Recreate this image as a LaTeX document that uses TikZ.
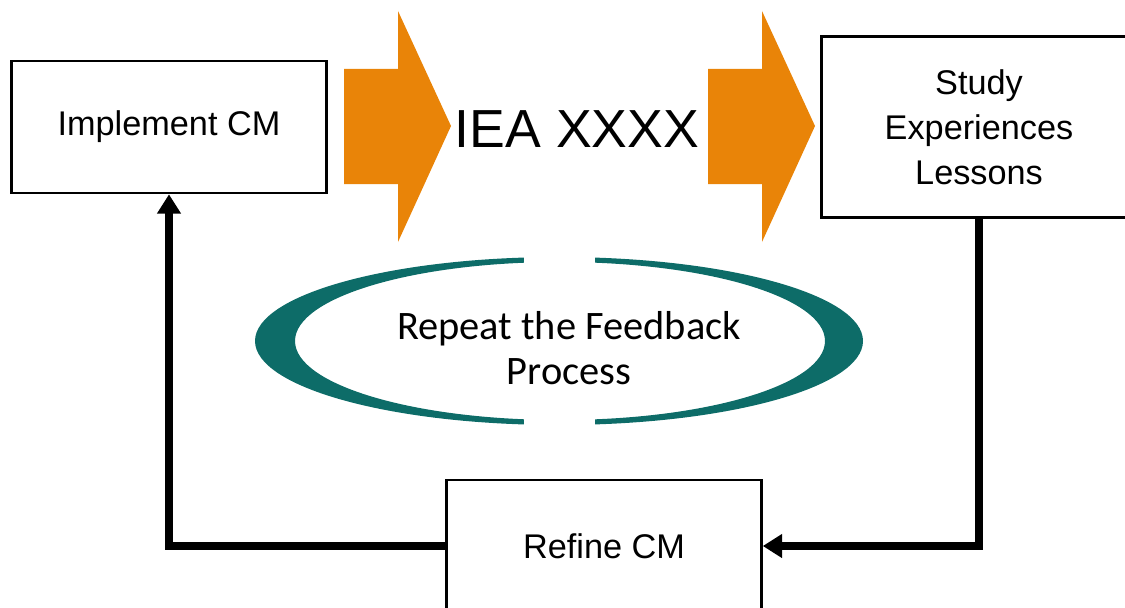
\documentclass[tikz,border=0pt]{standalone}
\usepackage{fontspec}
\setmainfont{Liberation Sans}
\newfontfamily\loopfont{Carlito}
\usetikzlibrary{arrows.meta, positioning}
\usepackage{xcolor}
\definecolor{arroworange}{RGB}{233, 132, 8}
\definecolor{loopteal}{RGB}{13, 108, 104}
\tikzset{
    stage box/.style={
        rectangle,
        draw=black,
        line width=1.5pt,
        fill=white,
        align=center,
        minimum width=6.3cm,
        minimum height=2.64cm,
        font=\fontsize{19.5}{25.6}\selectfont
    },
    feedback arrow/.style={
        -{Triangle[length=11pt, width=13pt]},
        line width=4.3pt,
        draw=black
    }
}

\begin{document}
\begin{tikzpicture}[x=0.02cm, y=-0.02cm]

\useasboundingbox (0, 0) rectangle (1125, 608);

% === PROCESS ARROWS ===
\foreach \x in {0, 364} {
    \fill[arroworange] (344+\x, 69) -- (398+\x, 69) -- (398+\x, 11)
        -- (451+\x, 126) -- (398+\x, 242) -- (398+\x, 184)
        -- (344+\x, 184) -- cycle;
}
\node[font=\fontsize{30.5}{37}\selectfont] (iea) at (577, 129) {IEA XXXX};

% === STAGES ===
\node[stage box] (implement) at (169, 127) {Implement CM};
\node[stage box, minimum height=3.62cm] (study) at (979, 127) {
    Study\\Experiences\\Lessons
};
\node[stage box] (refine) at (604, 546) {Refine CM};

% === FEEDBACK LOOP ===

% Ring (open at top and bottom)
\fill[loopteal, even odd rule]
    (559, 341) ellipse [x radius=304, y radius=84]
    (560, 341) ellipse [x radius=265, y radius=79];
\fill[white] (524, 250) rectangle (595, 275);
\fill[white] (524, 405) rectangle (595, 432);
\node[font=\loopfont\fontsize{23}{26}\selectfont, align=center] (repeat)
    at (569, 348) {Repeat the Feedback\\Process};

% Connectors
\draw[feedback arrow] (study.south) |- (refine.east);
\draw[feedback arrow] (refine.west) -| (implement.south);

\end{tikzpicture}
\end{document}
